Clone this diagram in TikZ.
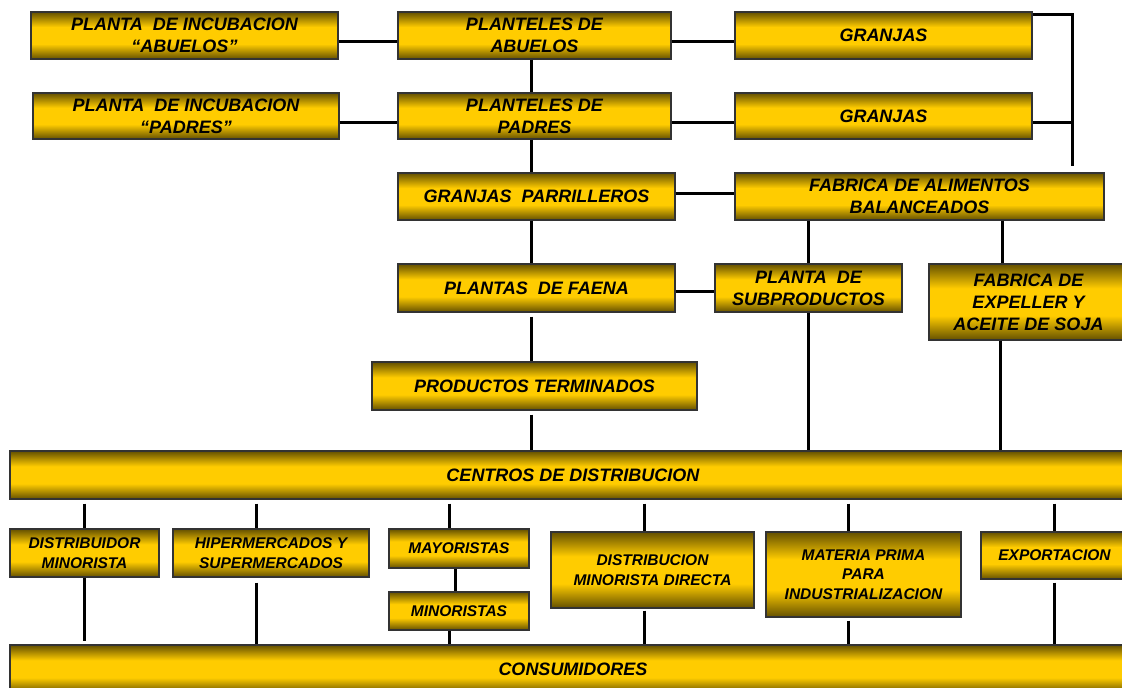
\documentclass[tikz,border=0pt]{standalone}
\usepackage{fontspec}
\setmainfont{Liberation Sans}
\definecolor{oro}{RGB}{255,204,0}
\definecolor{oscuro}{RGB}{100,80,0}
\pgfdeclareverticalshading{barra}{100bp}{color(0bp)=(oscuro); color(25bp)=(oscuro); color(41bp)=(oro); color(59bp)=(oro); color(75bp)=(oscuro); color(100bp)=(oscuro)}
\tikzstyle{caja}=[draw=black!80, line width=1.2pt, shading=barra, inner sep=0pt, align=center, font=\bfseries\itshape\fontsize{18}{22}\selectfont]
\tikzstyle{chica}=[caja, font=\bfseries\itshape\fontsize{15.5}{19.5}\selectfont]
\tikzstyle{linea}=[line width=3pt]
\newcommand{\caja}{\node[caja]}
\newcommand{\chica}{\node[chica]}

\begin{document}
\begin{tikzpicture}[x=1pt,y=-1pt]
	\useasboundingbox (0,0) rectangle (1122,688);
	% cadena de produccion
	\caja[minimum width=307pt,minimum height=47pt](incA) at (184.5,35.5) {PLANTA\ \ DE INCUBACION\\“ABUELOS”};
	\caja[minimum width=273pt,minimum height=47pt](plA) at (534.5,35.5) {PLANTELES DE\\ABUELOS};
	\caja[minimum width=297pt,minimum height=47pt](grA) at (883.5,35.5) {GRANJAS};
	\caja[minimum width=306pt,minimum height=46pt](incP) at (186,116) {PLANTA\ \ DE INCUBACION\\“PADRES”};
	\caja[minimum width=273pt,minimum height=46pt](plP) at (534.5,116) {PLANTELES DE\\PADRES};
	\caja[minimum width=297pt,minimum height=46pt](grP) at (883.5,116) {GRANJAS};
	\caja[minimum width=277pt,minimum height=47pt](parr) at (536.5,196.5) {GRANJAS\ \ PARRILLEROS};
	\caja[minimum width=369pt,minimum height=47pt](fab) at (919.5,196.5) {FABRICA DE ALIMENTOS\\BALANCEADOS};
	\caja[minimum width=277pt,minimum height=48pt](faena) at (536.5,288) {PLANTAS\ \ DE FAENA};
	\caja[minimum width=187pt,minimum height=48pt](subp) at (808.5,288) {PLANTA\ \ DE\\SUBPRODUCTOS};
	\caja[minimum width=199pt,minimum height=76pt](expel) at (1028.5,302) {FABRICA DE\\EXPELLER Y\\ACEITE DE SOJA};
	\caja[minimum width=325pt,minimum height=48pt](term) at (534.5,386) {PRODUCTOS TERMINADOS};
	\caja[minimum width=1126pt,minimum height=48pt](cdist) at (573,475) {CENTROS DE DISTRIBUCION};
	% canales
	\chica[minimum width=149pt,minimum height=48pt](dmin) at (84.5,553) {DISTRIBUIDOR\\MINORISTA};
	\chica[minimum width=196pt,minimum height=48pt](hiper) at (271,553) {HIPERMERCADOS Y\\SUPERMERCADOS};
	\chica[minimum width=140pt,minimum height=39pt](mayor) at (459,548.5) {MAYORISTAS};
	\chica[minimum width=140pt,minimum height=38pt](minor) at (459,611) {MINORISTAS};
	\chica[minimum width=203pt,minimum height=76pt](dmd) at (652.5,570) {DISTRIBUCION\\MINORISTA DIRECTA};
	\chica[minimum width=195pt,minimum height=85pt](mprima) at (863.5,574.5) {MATERIA PRIMA\\PARA\\INDUSTRIALIZACION};
	\chica[minimum width=147pt,minimum height=47pt](export) at (1054.5,555.5) {EXPORTACION};
	\caja[minimum width=1126pt,minimum height=48pt](cons) at (573,669) {CONSUMIDORES};
	% puntos auxiliares
	\coordinate (bus) at (1072.5,166);
	\coordinate (xfe) at ([xshift=-26pt]expel.north);
	\coordinate (xfs) at ([xshift=-28pt]expel.south);
	\coordinate (xhi) at ([xshift=-14.5pt]hiper.north);
	\coordinate (xhs) at ([xshift=-14.5pt]hiper.south);
	\coordinate (xma) at ([xshift=-9.5pt]mayor.north);
	\coordinate (xmm) at ([xshift=-3.5pt]mayor.south);
	\coordinate (xmi) at ([xshift=-9.5pt]minor.south);
	\coordinate (xdi) at ([xshift=-8.5pt]dmd.north);
	\coordinate (xds) at ([xshift=-8.5pt]dmd.south);
	\coordinate (xpi) at ([xshift=-15pt]mprima.north);
	\coordinate (xps) at ([xshift=-15pt]mprima.south);
	% conexiones
	\draw[linea] ([yshift=-6pt]incA.east) -- ([yshift=-6pt]plA.west);
	\draw[linea] ([yshift=-6pt]plA.east) -- ([yshift=-6pt]grA.west);
	\draw[linea] ([yshift=-6.5pt]incP.east) -- ([yshift=-6.5pt]plP.west);
	\draw[linea] ([yshift=-6.5pt]plP.east) -- ([yshift=-6.5pt]grP.west);
	\draw[linea] ([yshift=-3.5pt]grA.north east) -| (bus);
	\draw[linea] ([yshift=-6.5pt]grP.east) -| (bus);
	\draw[linea] ([xshift=-3pt]plA.south) -- ([xshift=-3pt]plP.north);
	\draw[linea] ([xshift=-3pt]plP.south) -- ([xshift=-3pt]plP.south |- parr.north);
	\draw[linea] ([yshift=3pt]parr.east) -- ([yshift=3pt]fab.west);
	\draw[linea] ([xshift=-5pt]parr.south) -- ([xshift=-5pt]faena.north);
	\draw[linea] ([yshift=-3.5pt]faena.east) -- ([yshift=-3.5pt]subp.west);
	\draw[linea,shorten <=4pt] ([xshift=-5pt]faena.south) -- ([xshift=-5pt]faena.south |- term.north);
	\draw[linea,shorten <=4pt] ([xshift=-3pt]term.south) -- ([xshift=-3pt]term.south |- cdist.north);
	\draw[linea] (subp.north |- fab.south) -- (subp.north);
	\draw[linea] (subp.south) -- (subp.south |- cdist.north);
	\draw[linea] (xfe |- fab.south) -- (xfe);
	\draw[linea] (xfs) -- (xfs |- cdist.north);
	\draw[linea,shorten <=4pt] (dmin.north |- cdist.south) -- (dmin.north);
	\draw[linea,shorten >=3pt] (dmin.south) -- (dmin.south |- cons.north);
	\draw[linea,shorten <=4pt] (xhi |- cdist.south) -- (xhi);
	\draw[linea,shorten <=5pt] (xhs) -- (xhs |- cons.north);
	\draw[linea,shorten <=4pt] (xma |- cdist.south) -- (xma);
	\draw[linea] (xmm) -- (xmm |- minor.north);
	\draw[linea] (xmi) -- (xmi |- cons.north);
	\draw[linea,shorten <=4pt] (xdi |- cdist.south) -- (xdi);
	\draw[linea,shorten <=2pt] (xds) -- (xds |- cons.north);
	\draw[linea,shorten <=4pt] (xpi |- cdist.south) -- (xpi);
	\draw[linea,shorten <=3pt] (xps) -- (xps |- cons.north);
	\draw[linea,shorten <=4pt] (export.north |- cdist.south) -- (export.north);
	\draw[linea,shorten <=3pt] (export.south) -- (export.south |- cons.north);
\end{tikzpicture}
\end{document}
